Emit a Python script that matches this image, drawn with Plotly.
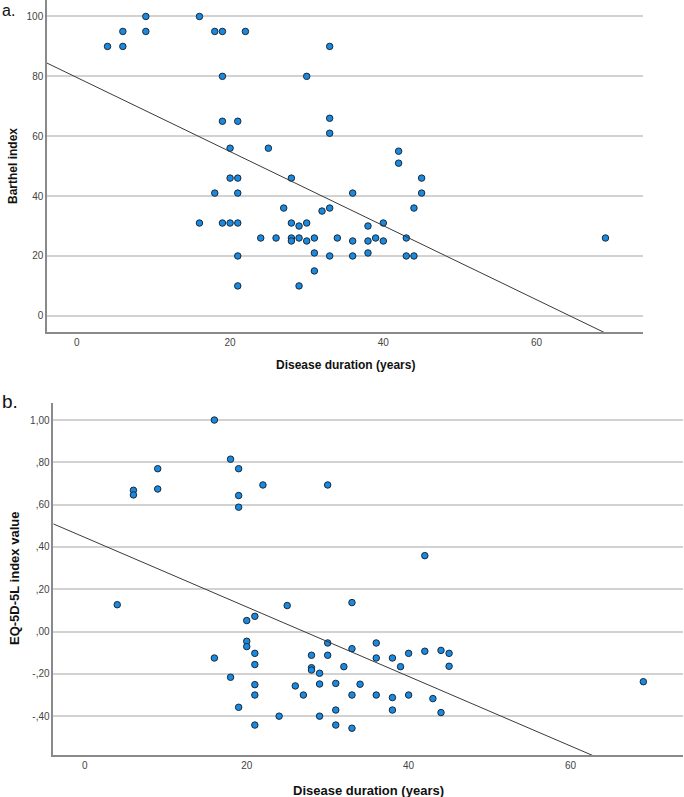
import plotly.graph_objects as go

# ---------------- data ----------------
# Panel a: Barthel index vs disease duration
dur_a = [4, 6, 6, 9, 9, 16, 18, 19, 22, 33,
         19, 30,
         19, 21, 33, 33,
         20, 25, 42, 42,
         20, 21, 28, 45,
         18, 21, 36, 45,
         44, 27, 32, 33,
         16, 19, 20, 21, 28, 29, 30, 38, 40,
         24, 26, 28, 28, 29, 30, 31, 34, 36, 38, 39, 40, 43, 69,
         31, 33, 36, 38, 43, 44, 21,
         31,
         21, 29]
barthel = [90, 95, 90, 100, 95, 100, 95, 95, 95, 90,
           80, 80,
           65, 65, 66, 61,
           56, 56, 55, 51,
           46, 46, 46, 46,
           41, 41, 41, 41,
           36, 36, 35, 36,
           31, 31, 31, 31, 31, 30, 31, 30, 31,
           26, 26, 26, 25, 26, 25, 26, 26, 25, 25, 26, 25, 26, 26,
           21, 20, 20, 21, 20, 20, 20,
           15,
           10, 10]

# Panel b: EQ-5D-5L index value vs disease duration
dur_b = [16, 18, 19, 19, 19, 6, 6, 9, 9, 22, 30, 42,
         4, 16, 18, 19,
         20, 21, 25, 33,
         20, 20, 21, 21, 21, 21, 21,
         24, 26, 27, 28, 28, 28, 29, 29, 29,
         30, 30, 31, 31, 31, 32, 33, 33, 33, 34,
         36, 36, 36, 38, 38, 38, 39, 40, 40,
         42, 43, 44, 44, 45, 45, 69]
eq5d = [1.00, 0.815, 0.77, 0.643, 0.588, 0.668, 0.646, 0.77, 0.674, 0.693, 0.693, 0.359,
        0.127, -0.125, -0.216, -0.358,
        0.052, 0.072, 0.123, 0.137,
        -0.046, -0.071, -0.103, -0.156, -0.251, -0.300, -0.442,
        -0.40, -0.257, -0.30, -0.112, -0.171, -0.182, -0.197, -0.248, -0.40,
        -0.054, -0.112, -0.245, -0.371, -0.442, -0.166, -0.081, -0.30, -0.457, -0.249,
        -0.054, -0.125, -0.30, -0.125, -0.312, -0.371, -0.166, -0.103, -0.30,
        -0.093, -0.317, -0.089, -0.383, -0.103, -0.164, -0.237]

# fit lines (intercept, slope)
fit_a = (79.6, -1.237)
fit_b = (0.445, -0.01643)
fit_x = [-3.9, 73.9]

x_ticks = [0, 20, 40, 60]
ya_ticks = [0, 20, 40, 60, 80, 100]
yb_ticks = [-0.4, -0.2, 0.0, 0.2, 0.4, 0.6, 0.8, 1.0]
yb_ticktext = ["-,40", "-,20", ",00", ",20", ",40", ",60", ",80", "1,00"]

# ---------------- figure ----------------
W, H = 684, 797
FONT = "Liberation Sans, Arial, sans-serif"
marker = dict(size=6.5, color="#1a8ae0", line=dict(color="#1b2a3a", width=1))

fig = go.Figure()
fig.add_trace(go.Scatter(x=dur_a, y=barthel, mode="markers", marker=marker,
                         xaxis="x", yaxis="y", showlegend=False))
fig.add_trace(go.Scatter(x=fit_x, y=[fit_a[0] + fit_a[1] * v for v in fit_x], mode="lines",
                         line=dict(color="#3a3a3a", width=1), xaxis="x", yaxis="y",
                         showlegend=False))
fig.add_trace(go.Scatter(x=dur_b, y=eq5d, mode="markers", marker=marker,
                         xaxis="x2", yaxis="y2", showlegend=False))
fig.add_trace(go.Scatter(x=fit_x, y=[fit_b[0] + fit_b[1] * v for v in fit_x], mode="lines",
                         line=dict(color="#3a3a3a", width=1), xaxis="x2", yaxis="y2",
                         showlegend=False))

def px(v):
    return v / W

def py(v):
    return 1 - v / H

axis_common = dict(showline=True, linecolor="#8a8a8a", linewidth=1.5, ticks="",
                   tickfont=dict(family=FONT, size=10, color="#444"), zeroline=False)

fig.update_layout(
    width=W, height=H, margin=dict(l=0, r=0, t=0, b=0),
    paper_bgcolor="white", plot_bgcolor="white",
    xaxis=dict(domain=[px(47), px(643)], range=[-3.9, 73.9], anchor="y",
               tickvals=x_ticks, showgrid=False, **axis_common),
    yaxis=dict(domain=[py(332), py(0)], range=[-5.4, 105.5], anchor="x",
               tickvals=ya_ticks, showgrid=True, gridcolor="#d2d2d2", gridwidth=1.5,
               **axis_common),
    xaxis2=dict(domain=[px(53.3), px(683)], range=[-3.9, 73.9], anchor="y2",
                tickvals=x_ticks, showgrid=False, **axis_common),
    yaxis2=dict(domain=[py(755.3), py(402.7)], range=[-0.585, 1.082], anchor="x2",
                tickvals=yb_ticks, ticktext=yb_ticktext, showgrid=True,
                gridcolor="#d2d2d2", gridwidth=1.5, **axis_common),
)

ann = [
    dict(text="a.", x=px(0), y=py(0), xanchor="left", yanchor="top", size=16),
    dict(text="b.", x=px(0), y=py(414), xanchor="left", yanchor="bottom", size=19),
    dict(text="<b>Disease duration (years)</b>", x=px(345), y=py(365), xanchor="center",
         yanchor="middle", size=12),
    dict(text="<b>Disease duration (years)</b>", x=px(368), y=py(790), xanchor="center",
         yanchor="middle", size=13),
    dict(text="<b>Barthel index</b>", x=px(13), y=py(166), xanchor="center",
         yanchor="middle", size=12, angle=-90),
    dict(text="<b>EQ-5D-5L index value</b>", x=px(14), y=py(579), xanchor="center",
         yanchor="middle", size=13, angle=-90),
]
for a in ann:
    fig.add_annotation(text=a["text"], x=a["x"], y=a["y"], xref="paper", yref="paper",
                       xanchor=a["xanchor"], yanchor=a["yanchor"], showarrow=False,
                       textangle=a.get("angle", 0),
                       font=dict(family=FONT, size=a["size"], color="#111"))

fig.write_html("out.html")
